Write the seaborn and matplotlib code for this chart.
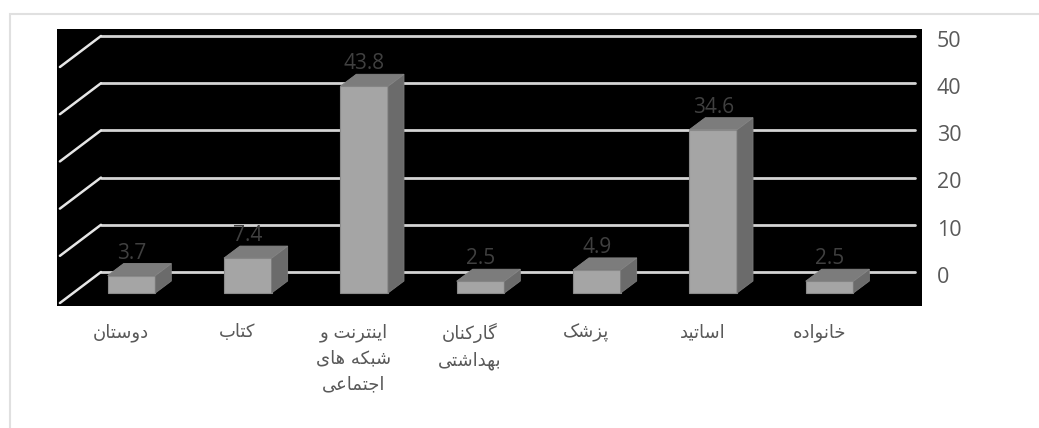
import numpy as np
import pandas as pd
import matplotlib
matplotlib.use("Agg")
import matplotlib.pyplot as plt
from matplotlib.patches import Polygon, Rectangle
from matplotlib.transforms import ScaledTranslation
import seaborn as sns

categories = ["دوستان", "کتاب", "اینترنت و\nشبکه های\nاجتماعی", "گارکنان\nبهداشتی", "پزشک", "اساتید", "خانواده"]
values = [3.7, 7.4, 43.8, 2.5, 4.9, 34.6, 2.5]
y_ticks = [0, 10, 20, 30, 40, 50]

# isolated, final, initial, medial; right-joining letters only have two forms
FORMS = {
    "ا": "\uFE8D\uFE8E", "د": "\uFEA9\uFEAA", "ر": "\uFEAD\uFEAE", "ز": "\uFEAF\uFEB0", "و": "\uFEED\uFEEE",
    "ب": "\uFE8F\uFE90\uFE91\uFE92", "پ": "\uFB56\uFB57\uFB58\uFB59", "ت": "\uFE95\uFE96\uFE97\uFE98",
    "ج": "\uFE9D\uFE9E\uFE9F\uFEA0", "خ": "\uFEA5\uFEA6\uFEA7\uFEA8", "س": "\uFEB1\uFEB2\uFEB3\uFEB4",
    "ش": "\uFEB5\uFEB6\uFEB7\uFEB8", "ع": "\uFEC9\uFECA\uFECB\uFECC", "ک": "\uFB8E\uFB8F\uFB90\uFB91",
    "گ": "\uFB92\uFB93\uFB94\uFB95", "م": "\uFEE1\uFEE2\uFEE3\uFEE4", "ن": "\uFEE5\uFEE6\uFEE7\uFEE8",
    "ه": "\uFEE9\uFEEA\uFEEB\uFEEC", "ی": "\uFBFC\uFBFD\uFBFE\uFBFF",
}


def shape_word(word):
    out = []
    for i, ch in enumerate(word):
        forms = FORMS[ch]
        joins_prev = i > 0 and len(FORMS[word[i - 1]]) == 4
        joins_next = i < len(word) - 1 and len(forms) == 4
        out.append(forms[(1 if joins_prev else 0) + (2 if joins_next else 0)])
    return "".join(out)[::-1]


def shape(text):
    # matplotlib has no bidi or joining, so do it per line
    lines = []
    for line in text.split("\n"):
        lines.append(" ".join(shape_word(w) for w in line.split(" ")[::-1]))
    return "\n".join(lines)


sns.set_style("white")
plt.rcParams["font.family"] = ["Open Sans", "DejaVu Sans"]

df = pd.DataFrame({"category": categories, "value": values})

fig = plt.figure(figsize=(10.39, 4.28), dpi=100)
ax = fig.add_axes([57 / 1039, 1 - 306 / 428, 865 / 1039, 277 / 428])
ax.set_facecolor("black")

sns.barplot(data=df, x="category", y="value", color="#a5a5a5", saturation=1, width=0.41,
            errorbar=None, ax=ax, edgecolor="#8a8a8a", linewidth=0.8, zorder=3)

ax.set_xlim(-0.64, 6.795)
ax.set_ylim(-2.75, 55.93)

# fake 3d: wall sits behind the bars, floor lines come forward to the left
wall_dy = 4.45
wall_left, wall_right = -0.262, 6.735
floor_dx, floor_dy = -0.353, -6.57
for t in y_ticks:
    y = t + wall_dy
    ax.plot([wall_left, wall_right], [y, y], color="#d4d4d4", lw=2, zorder=1, solid_capstyle="round")
    ax.plot([wall_left, wall_left + floor_dx], [y, y + floor_dy], color="#e6e6e6", lw=1.8, zorder=1,
            solid_capstyle="round")

# side and top of each bar
dx, dy = 0.1375, 2.54
for bar, v in zip(ax.patches, values):
    x0 = bar.get_x()
    x1 = x0 + bar.get_width()
    ax.add_patch(Polygon([(x1, 0), (x1 + dx, dy), (x1 + dx, v + dy), (x1, v)], facecolor="#6b6b6b",
                         edgecolor="#7a7a7a", lw=0.6, zorder=3))
    ax.add_patch(Polygon([(x0, v), (x0 + dx, v + dy), (x1 + dx, v + dy), (x1, v)], facecolor="#7c7c7c",
                         edgecolor="#858585", lw=0.6, zorder=3))
    ax.text((x0 + x1) / 2, v + 3.6, f"{v:.1f}", ha="center", va="baseline", color="#404040",
            fontsize=15, zorder=4)

ax.set_xticks(np.arange(len(categories)) - 0.09, [shape(c) for c in categories], color="#595959",
              fontsize=13, linespacing=1.57, family=["DejaVu Sans"])
ax.set_xlabel("")
ax.set_ylabel("")
ax.yaxis.tick_right()
ax.set_yticks([t + wall_dy for t in y_ticks], [str(t) for t in y_ticks], color="#595959", fontsize=15.5)
ax.tick_params(axis="x", length=0, pad=12.5)
ax.tick_params(axis="y", length=0, pad=10.5)
for lbl in ax.get_yticklabels():
    lbl.set_transform(lbl.get_transform() + ScaledTranslation(0, -2 / 72, fig.dpi_scale_trans))
sns.despine(ax=ax, left=True, bottom=True, right=True, top=True)

# outer chart frame, cut off by the crop on the right and at the bottom
fig.add_artist(Rectangle((10 / 1039, -0.1), 1.2, 1.1 - 14 / 428, transform=fig.transFigure, fill=False,
                         edgecolor="#e0e0e0", lw=1.5, zorder=-1))

fig.savefig("out.png", dpi=100)
